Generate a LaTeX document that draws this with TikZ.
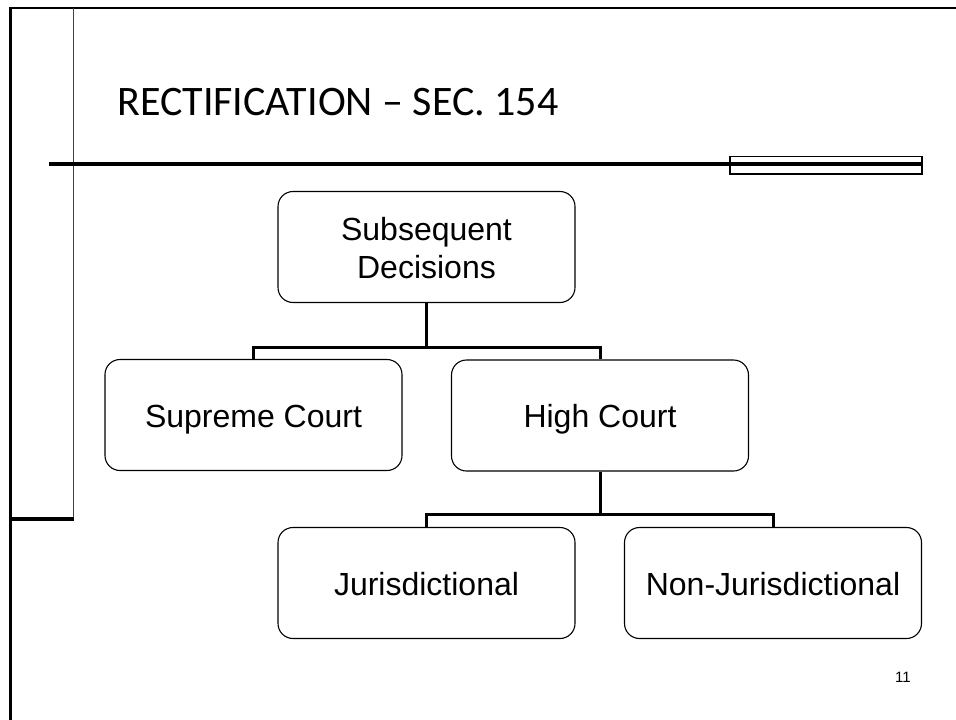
\documentclass[tikz,border=0pt]{standalone}
\usepackage{fontspec}
\setmainfont{Liberation Sans}
\newfontfamily\titlefont{Carlito}
\usepackage{tikz}
\usetikzlibrary{positioning,calc}
\tikzset{
  orgbox/.style={draw,line width=1.1pt,rounded corners=15pt,
            minimum width=297pt,minimum height=111pt,inner sep=0pt,
            text height=25pt,text depth=1pt,
            align=center,font=\fontsize{32}{38}\selectfont,fill=white},
  link/.style={line width=3pt,black},
  framethick/.style={line width=2.5pt,black},
  framethin/.style={line width=1pt,black!75},
  rulebar/.style={line width=3.5pt,black},
}

\begin{document}
\begin{tikzpicture}[x=1pt,y=-1pt]
  \useasboundingbox (0,0) rectangle (956,720);
  % --- slide frame and header rule ---
  \draw[framethick] (10.5,720) -- (10.5,8) -- (956,8);
  \draw[framethin] (73,8) -- (73,520);
  \draw[line width=4pt] (10,519) -- (74,519);
  \draw[rulebar] (49,164) -- (922,164);
  \draw[line width=1.2pt] (730,156.5) rectangle (922,174);
  % --- title and page number ---
  \node[anchor=base west,inner sep=0pt,
        font=\titlefont\fontsize{42}{50}\selectfont] (title) at (117,115)
       {RECTIFICATION – SEC. 154};
  \node[anchor=base east,inner sep=0pt,font=\fontsize{15}{18}\selectfont]
       (pgno) at (911,682) {11};
  % --- boxes ---
  \node[orgbox,text height=63pt] (dec) at (426.5,247) {Subsequent\\Decisions};
  \node[orgbox] (sup) at (253.5,415) {Supreme Court};
  \node[orgbox] (high) at (600,415.5) {High Court};
  \node[orgbox] (jur) at (426.5,583) {Jurisdictional};
  \node[orgbox] (nonjur) at (773,583) {Non-Jurisdictional};
  % --- connectors ---
  \draw[link] (dec.south) -- ++(0,44) -| (sup.north);
  \draw[link] (dec.south) -- ++(0,44) -| (high.north);
  \draw[link] (high.south) -- ++(0,43) -| (jur.north);
  \draw[link] (high.south) -- ++(0,43) -| (nonjur.north);
\end{tikzpicture}
\end{document}
